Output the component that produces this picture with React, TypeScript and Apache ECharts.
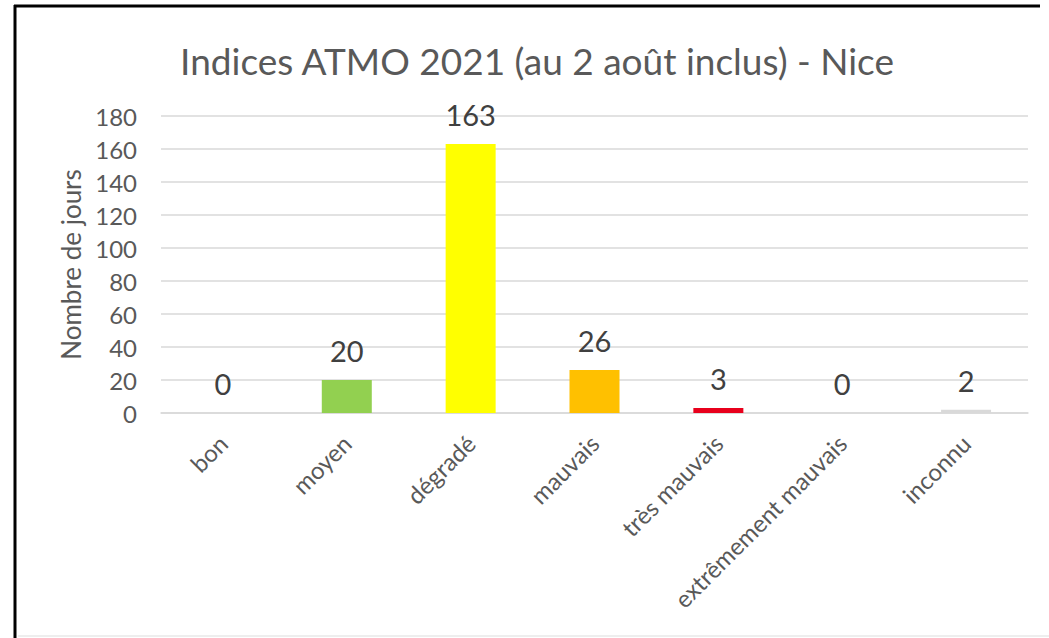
import React, { useEffect, useRef } from "react";
import * as echarts from "echarts";

const categories = ["bon", "moyen", "dégradé", "mauvais", "très mauvais", "extrêmement mauvais", "inconnu"];
const values = [0, 20, 163, 26, 3, 0, 2];
const barColors = ["#00B050", "#92D050", "#FFFF00", "#FFC000", "#E8001C", "#7030A0", "#D9D9D9"];
const titleText = "Indices ATMO 2021 (au 2 août inclus) - Nice";
const yAxisName = "Nombre de jours";

export default function App() {
  const ref = useRef<HTMLDivElement>(null);
  useEffect(() => {
    if (!ref.current) return;
    const chart = echarts.init(ref.current, null, { renderer: "svg" });
    const font = "Lato, 'Open Sans', sans-serif";
    chart.setOption({
      animation: false,
      backgroundColor: "#ffffff",
      title: {
        text: titleText,
        left: 532,
        textAlign: "center",
        top: 37,
        textStyle: { fontFamily: font, fontSize: 37, fontWeight: "normal", color: "#595959" },
      },
      grid: { left: 161, right: 21, top: 116, bottom: 225, containLabel: false },
      xAxis: {
        type: "category",
        data: categories,
        axisLine: { show: true, lineStyle: { color: "#D9D9D9", width: 1.5 } },
        axisTick: { show: false },
        axisLabel: {
          rotate: 45,
          interval: 0,
          margin: 26,
          fontFamily: font,
          fontSize: 24,
          color: "#595959",
        },
      },
      yAxis: {
        type: "value",
        min: 0,
        max: 180,
        interval: 20,
        name: yAxisName,
        nameLocation: "middle",
        nameGap: 76,
        nameRotate: 90,
        nameTextStyle: { fontFamily: font, fontSize: 26, color: "#595959" },
        axisLine: { show: false },
        axisTick: { show: false },
        axisLabel: { fontFamily: font, fontSize: 24, color: "#595959", margin: 24 },
        splitLine: { lineStyle: { color: "#D9D9D9", width: 1.5 } },
      },
      series: [
        {
          type: "bar",
          barWidth: 50,
          data: values.map((v, i) => ({ value: v, itemStyle: { color: barColors[i] } })),
          label: {
            show: true,
            position: "top",
            distance: 15,
            fontFamily: font,
            fontSize: 29,
            color: "#404040",
          },
        },
      ],
      graphic: [
        { type: "line", shape: { x1: 15, y1: 5, x2: 15, y2: 638 }, style: { stroke: "#000", lineWidth: 3 } },
        { type: "line", shape: { x1: 14, y1: 6, x2: 1040, y2: 6 }, style: { stroke: "#000", lineWidth: 3 } },
        { type: "line", shape: { x1: 18, y1: 636, x2: 1049, y2: 636 }, style: { stroke: "#EEEEEE", lineWidth: 2 } },
      ],
    });
    return () => chart.dispose();
  }, []);
  return <div ref={ref} style={{ position: "fixed", left: 0, top: 0, width: 1049, height: 638 }} />;
}
